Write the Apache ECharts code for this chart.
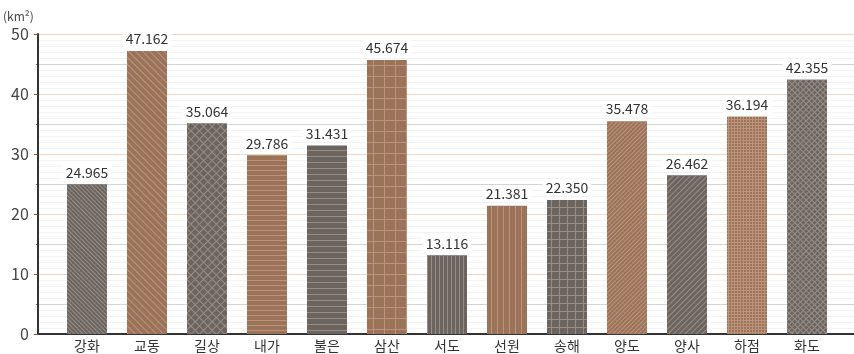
<!DOCTYPE html>
<html>
<head>
<meta charset="utf-8">
<script src="https://cdn.jsdelivr.net/npm/echarts@6/dist/echarts.min.js"></script>
<style>
  html, body { margin: 0; padding: 0; background: #fff; }
  #chart { width: 854px; height: 354px; }
</style>
</head>
<body>
<div id="chart"></div>
<script>
// 섬 이름 / 면적 (km²)
const regions = ['강화', '교동', '길상', '내가', '불은', '삼산', '서도', '선원', '송해', '양도', '양사', '하점', '화도'];
const areas = [24.965, 47.162, 35.064, 29.786, 31.431, 45.674, 13.116, 21.381, 22.350, 35.478, 26.462, 36.194, 42.355];
const yTicks = [0, 10, 20, 30, 40, 50];

const GRAY = '#6c645f';
const BROWN = '#9b7359';
const GRAY_LINE = '#968d87';
const BROWN_LINE = '#bb937a';
const FONT = '"Noto Sans CJK KR", "Noto Sans", sans-serif';

// 막대별 무늬
function stripes(color, gap, rot) {
  return { symbol: 'rect', symbolSize: 1, color: color, dashArrayX: [1, 0], dashArrayY: [1, gap], rotation: rot };
}
function grid(fill, line, cell, rot) {
  return { symbol: 'rect', symbolSize: 1, color: fill, backgroundColor: line, dashArrayX: [cell, 1], dashArrayY: [cell, 1], rotation: rot || 0 };
}
const decals = [
  stripes(GRAY_LINE, 2, Math.PI / 4),
  stripes(BROWN_LINE, 4, Math.PI / 4),
  grid(GRAY, GRAY_LINE, 5, Math.PI / 4),
  stripes(BROWN_LINE, 4, 0),
  stripes(GRAY_LINE, 5, 0),
  grid(BROWN, BROWN_LINE, 10),
  stripes(GRAY_LINE, 3, Math.PI / 2),
  stripes(BROWN_LINE, 5, Math.PI / 2),
  grid(GRAY, GRAY_LINE, 7),
  stripes(BROWN_LINE, 2, -Math.PI / 4),
  stripes(GRAY_LINE, 3, -Math.PI / 4),
  grid(BROWN, BROWN_LINE, 2),
  grid(GRAY, GRAY_LINE, 3, Math.PI / 4)
];

const barData = areas.map(function (v, i) {
  return {
    value: v,
    itemStyle: { color: i % 2 === 0 ? GRAY : BROWN, decal: decals[i] }
  };
});

const chart = echarts.init(document.getElementById('chart'));
chart.setOption({
  backgroundColor: '#fff',
  animation: false,
  textStyle: { fontFamily: FONT },
  grid: [
    { left: 36, right: 0, top: 34, height: 300 },
    { left: 57, right: 17, top: 34, height: 300 }
  ],
  xAxis: [
    {
      gridIndex: 0, type: 'value', min: 0, max: 1,
      axisLine: { show: true, lineStyle: { color: '#333', width: 2 } },
      axisTick: { show: false }, axisLabel: { show: false }, splitLine: { show: false }
    },
    {
      gridIndex: 1, type: 'category', data: regions,
      axisLine: { show: false }, axisTick: { show: false }, splitLine: { show: false },
      axisLabel: { color: '#333', fontSize: 14, margin: 5, fontFamily: FONT }
    }
  ],
  yAxis: [
    {
      gridIndex: 0, type: 'value', position: 'left', min: yTicks[0], max: yTicks[yTicks.length - 1], interval: 10,
      name: '(km²)', nameLocation: 'end', nameGap: 12,
      nameTextStyle: { color: '#444', fontSize: 12, align: 'right', padding: [0, 4, 0, 0], fontFamily: FONT },
      axisLine: { show: true, lineStyle: { color: '#333', width: 2 } },
      axisTick: { show: true, length: 4, lineStyle: { color: '#8a5a3c' } },
      axisLabel: { color: '#444', fontSize: 16, margin: 9, fontFamily: FONT },
      splitLine: { show: false },
      z: 3
    },
    {
      gridIndex: 0, type: 'value', position: 'left', offset: 0, min: 0, max: 50, interval: 5,
      axisLine: { show: false },
      axisTick: { show: true, length: 2, lineStyle: { color: '#9a6a4c' } },
      axisLabel: { show: false },
      splitLine: { show: true, lineStyle: { color: ['#f0d6c6', '#d4d4d4'] } },
      minorTick: { show: false, splitNumber: 5 },
      minorSplitLine: { show: true, lineStyle: { color: '#f3f3f3' } }
    },
    {
      gridIndex: 1, type: 'value', min: 0, max: 50, show: false
    }
  ],
  series: [
    {
      type: 'bar',
      xAxisIndex: 1,
      yAxisIndex: 2,
      barWidth: 40,
      data: barData,
      label: {
        show: true,
        position: 'top',
        distance: 4,
        color: '#333',
        fontSize: 14,
        fontFamily: FONT,
        backgroundColor: '#fff',
        padding: [1, 3],
        formatter: function (p) { return p.value.toFixed(3); }
      }
    }
  ]
});
</script>
</body>
</html>
